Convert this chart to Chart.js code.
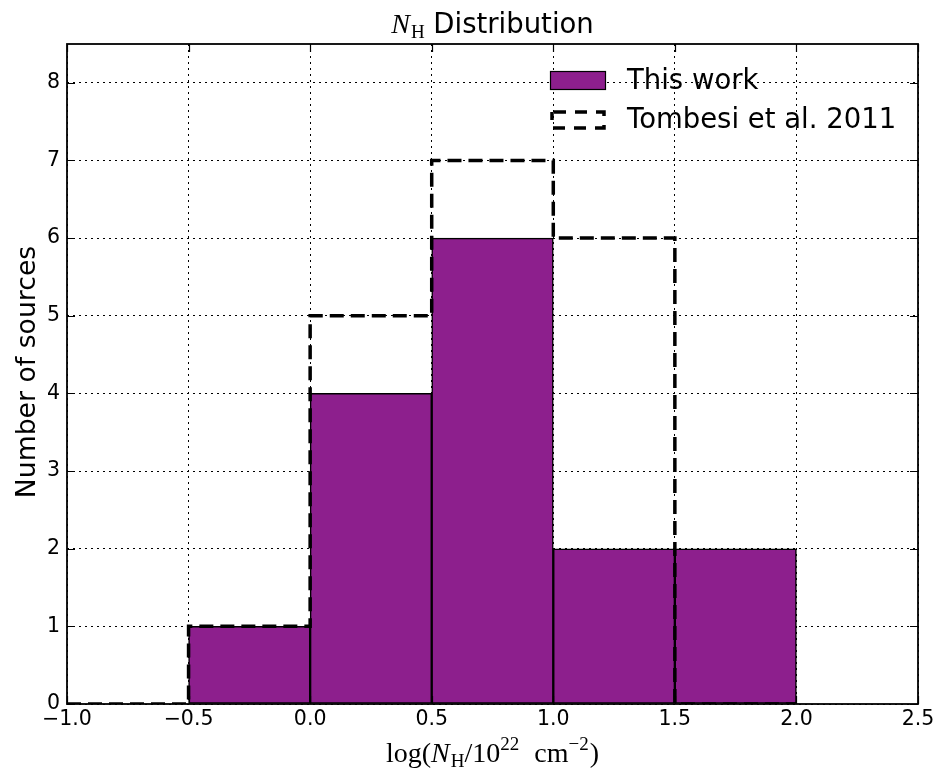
<!DOCTYPE html>
<html>
<head>
<meta charset="utf-8">
<title>NH distribution</title>
<script src="https://cdn.jsdelivr.net/npm/chart.js@4.4.1/dist/chart.umd.min.js"></script>
<style>
html, body { margin: 0; padding: 0; background: #fff; }
#nh_canvas { display: block; }
</style>
</head>
<body>
<canvas id="nh_canvas" width="933" height="771"></canvas>
<script>
// histogram bin edges in log(NH / 1e22 cm^-2)
var binEdges = [-1.0, -0.5, 0.0, 0.5, 1.0, 1.5, 2.0];
// number of sources in each bin
var thisWork = [0, 1, 4, 6, 2, 2];
var tombesi2011 = [0, 1, 5, 7, 6, 0];
var seriesLabels = ['This work', 'Tombesi et al. 2011'];
var xTicks = [-1.0, -0.5, 0.0, 0.5, 1.0, 1.5, 2.0, 2.5];
var yTicks = [0, 1, 2, 3, 4, 5, 6, 7, 8];

var purple = '#8d1f8d';
var dashPattern = [14, 7];

// filled bars sit at bin centres, empty bins are skipped
var barPoints = [];
thisWork.forEach(function(n, i) {
    if (n > 0) barPoints.push({ x: (binEdges[i] + binEdges[i + 1]) / 2, y: n });
});

// outline: one point per left edge, stepped, plus the closing edge
var stepPoints = tombesi2011.map(function(n, i) { return { x: binEdges[i], y: n }; });
stepPoints.push({ x: binEdges[binEdges.length - 1], y: 0 });

function fmtX(v) {
    return (v < 0 ? '\u2212' : '') + Math.abs(v).toFixed(1);
}

// draws a row of text runs (font changes, sub/superscripts) centred on cx
function drawRuns(ctx, runs, cx, y) {
    var total = 0;
    runs.forEach(function(r) { ctx.font = r.f; r.w = ctx.measureText(r.t).width + (r.gap || 0); total += r.w; });
    var x = cx - total / 2;
    ctx.textAlign = 'left';
    ctx.textBaseline = 'alphabetic';
    runs.forEach(function(r) {
        ctx.font = r.f;
        ctx.fillText(r.t, x, y + (r.dy || 0));
        x += r.w;
    });
}

var serif = '"Liberation Serif", "DejaVu Serif", serif';
var sans = '"DejaVu Sans", sans-serif';

var frameAndText = {
    id: 'frameAndText',
    afterDraw: function(chart) {
        var ctx = chart.ctx, a = chart.chartArea;
        var xs = chart.scales.x, ys = chart.scales.y;
        ctx.save();
        ctx.strokeStyle = '#000';
        ctx.fillStyle = '#000';

        // inward tick marks on all four sides
        ctx.lineWidth = 1.2;
        ctx.beginPath();
        xTicks.forEach(function(v) {
            var px = Math.round(xs.getPixelForValue(v)) + 0.5;
            ctx.moveTo(px, a.bottom); ctx.lineTo(px, a.bottom - 8);
            ctx.moveTo(px, a.top); ctx.lineTo(px, a.top + 8);
        });
        yTicks.forEach(function(v) {
            var py = Math.round(ys.getPixelForValue(v)) + 0.5;
            ctx.moveTo(a.left, py); ctx.lineTo(a.left + 8, py);
            ctx.moveTo(a.right, py); ctx.lineTo(a.right - 8, py);
        });
        ctx.stroke();

        // axes frame
        ctx.lineWidth = 1.8;
        ctx.strokeRect(a.left, a.top, a.right - a.left, a.bottom - a.top);

        // title
        var cx = (a.left + a.right) / 2;
        drawRuns(ctx, [
            { t: 'N', f: 'italic 28px ' + serif, gap: 1 },
            { t: 'H', f: '19px ' + serif, dy: 5 },
            { t: ' Distribution', f: '27.5px ' + sans }
        ], cx, 33);

        // x axis label
        drawRuns(ctx, [
            { t: 'log(', f: '28px ' + serif },
            { t: 'N', f: 'italic 28px ' + serif, gap: 1 },
            { t: 'H', f: '19px ' + serif, dy: 5 },
            { t: '/10', f: '28px ' + serif },
            { t: '22', f: '19px ' + serif, dy: -12, gap: 8 },
            { t: ' cm', f: '28px ' + serif },
            { t: '\u22122', f: '19px ' + serif, dy: -12, gap: 1 },
            { t: ')', f: '28px ' + serif }
        ], cx, 762);

        // y axis label
        ctx.save();
        ctx.translate(35, (a.top + a.bottom) / 2 - 2);
        ctx.rotate(-Math.PI / 2);
        ctx.font = '26.7px ' + sans;
        ctx.textAlign = 'center';
        ctx.textBaseline = 'alphabetic';
        ctx.fillText('Number of sources', 0, 0);
        ctx.restore();

        // legend
        ctx.fillStyle = purple;
        ctx.fillRect(550, 71, 56, 19);
        ctx.lineWidth = 1.2;
        ctx.strokeRect(550.5, 71.5, 55, 18);
        ctx.lineWidth = 3.5;
        ctx.setLineDash([12, 9]);
        ctx.lineDashOffset = -2;
        ctx.strokeRect(552, 112, 52, 16);
        ctx.setLineDash([]);
        ctx.fillStyle = '#000';
        ctx.font = '27.5px ' + sans;
        ctx.textAlign = 'left';
        ctx.textBaseline = 'alphabetic';
        ctx.fillText(seriesLabels[0], 627, 89);
        ctx.fillText(seriesLabels[1], 627, 128);
        ctx.restore();
    }
};

var ctx = document.getElementById('nh_canvas').getContext('2d');
var nhChart = new Chart(ctx, {
    type: 'bar',
    data: {
        datasets: [
            {
                type: 'line',
                label: seriesLabels[1],
                data: stepPoints,
                stepped: true,
                borderColor: '#000',
                borderWidth: 3.5,
                borderDash: dashPattern,
                borderCapStyle: 'butt',
                pointRadius: 0,
                fill: false,
                order: 1
            },
            {
                type: 'bar',
                label: seriesLabels[0],
                data: barPoints,
                backgroundColor: purple,
                borderColor: '#000',
                borderWidth: 1.5,
                borderSkipped: false,
                barPercentage: 1.0,
                categoryPercentage: 1.0,
                order: 2
            }
        ]
    },
    options: {
        responsive: false,
        devicePixelRatio: 1,
        animation: false,
        layout: { padding: { top: 44, right: 15, left: 0, bottom: 0 } },
        plugins: {
            legend: { display: false },
            title: { display: false },
            tooltip: { enabled: false }
        },
        scales: {
            x: {
                type: 'linear',
                min: -1.0,
                max: 2.5,
                offset: false,
                afterBuildTicks: function(s) { s.ticks = xTicks.map(function(v) { return { value: v }; }); },
                afterFit: function(s) { s.height = 67; s.paddingLeft = 0; s.paddingRight = 0; },
                grid: { color: '#000', lineWidth: 1, drawTicks: false, offset: false },
                border: { display: false, dash: [2, 4] },
                ticks: {
                    color: '#000',
                    font: { family: 'DejaVu Sans', size: 20.5 },
                    padding: 3,
                    maxRotation: 0,
                    autoSkip: false,
                    callback: function(v) { return fmtX(v); }
                }
            },
            y: {
                type: 'linear',
                min: 0,
                max: 8.5,
                afterBuildTicks: function(s) { s.ticks = yTicks.map(function(v) { return { value: v }; }); },
                afterFit: function(s) { s.width = 67; s.paddingTop = 0; s.paddingBottom = 0; },
                grid: { color: '#000', lineWidth: 1, drawTicks: false },
                border: { display: false, dash: [2, 4] },
                ticks: {
                    color: '#000',
                    font: { family: 'DejaVu Sans', size: 20.5 },
                    padding: 7,
                    autoSkip: false,
                    callback: function(v) { return String(v); }
                }
            }
        }
    },
    plugins: [frameAndText]
});
</script>
</body>
</html>
